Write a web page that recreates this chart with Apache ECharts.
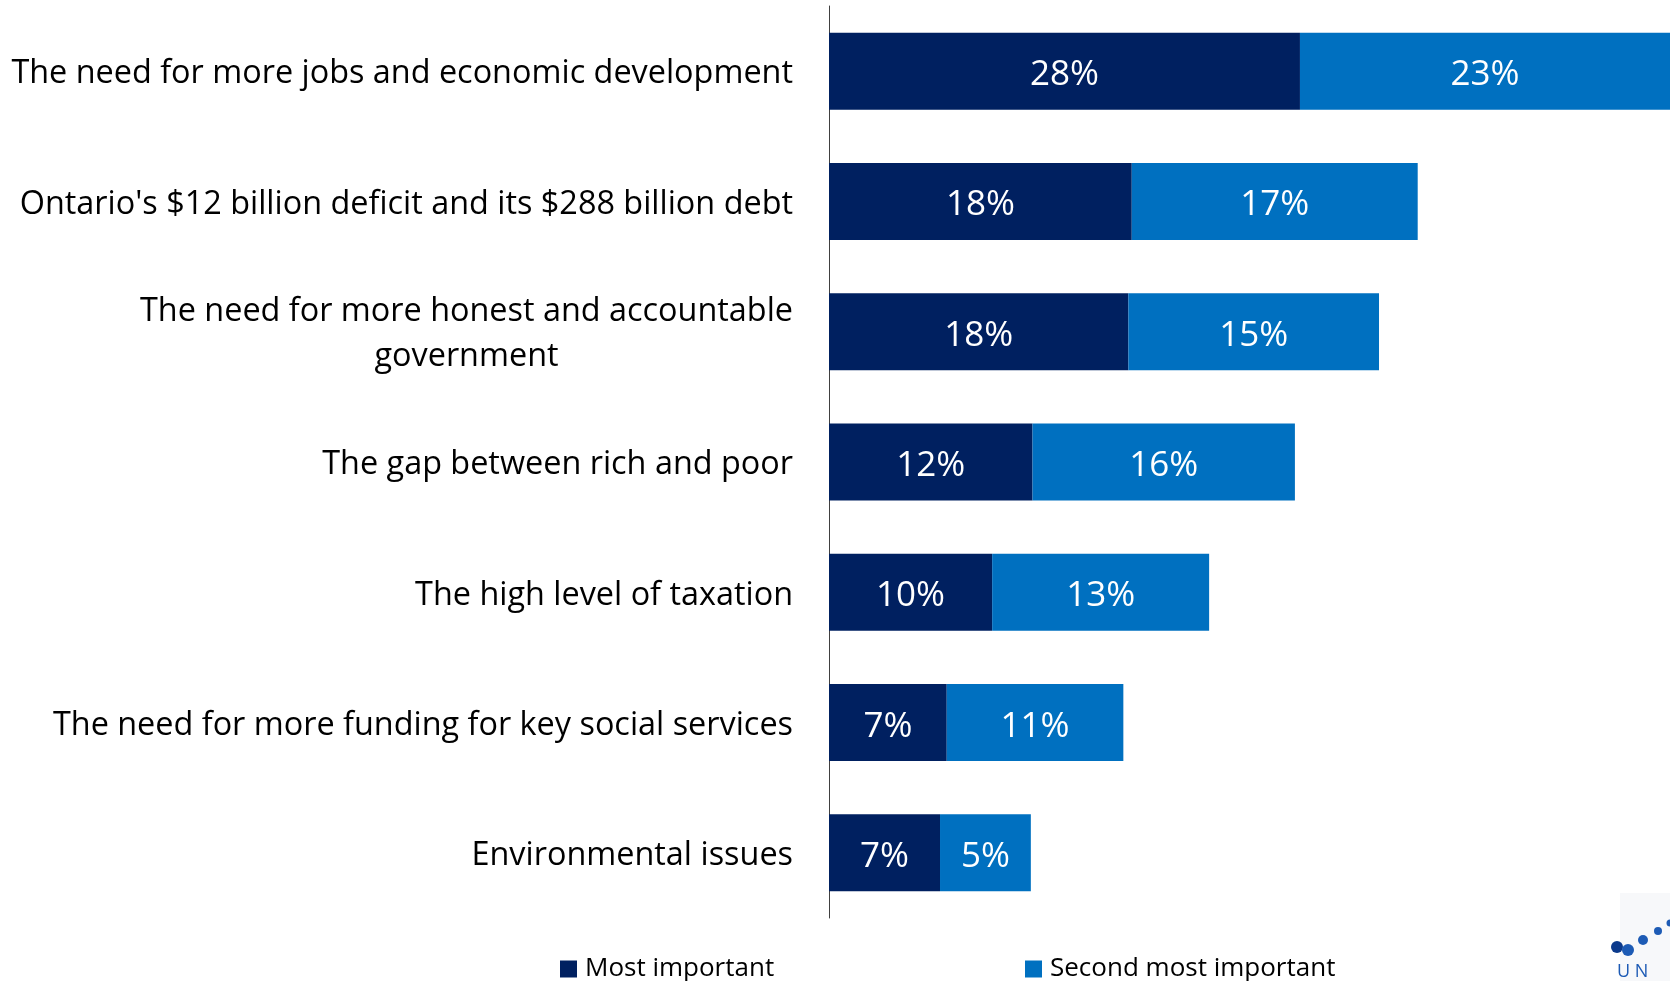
<!DOCTYPE html>
<html>
<head>
<meta charset="utf-8">
<script src="https://cdn.jsdelivr.net/npm/echarts@6/dist/echarts.min.js"></script>
<style>
html,body{margin:0;padding:0;background:#fff;}
#c{width:1670px;height:981px;}
</style>
</head>
<body>
<div id="c"></div>
<script>
const categories = [
  "The need for more jobs and economic development",
  "Ontario's $12 billion deficit and its $288 billion debt",
  "The need for more honest and accountable\ngovernment",
  "The gap between rich and poor",
  "The high level of taxation",
  "The need for more funding for key social services",
  "Environmental issues"
];
const mostImportant = [28, 18, 17.8, 12.1, 9.7, 7.0, 6.6];
const secondMost = [23, 17, 14.9, 15.6, 12.9, 10.5, 5.4];
const seriesNames = ["Most important", "Second most important"];

const chart = echarts.init(document.getElementById('c'));
const labelFont = "'Open Sans', sans-serif";
const barLabel = {show: true, position: 'inside', color: '#fff', fontFamily: labelFont, fontSize: 35,
  offset: [0, 4], formatter: p => Math.round(p.value) + '%'};
chart.setOption({
  animation: false,
  grid: {left: 829, right: 0, top: 6, bottom: 63, containLabel: false},
  xAxis: {type: 'value', min: 0, max: 50, show: false},
  yAxis: {
    type: 'category', inverse: true, data: categories,
    axisLine: {show: true, lineStyle: {color: '#404040', width: 1}},
    axisTick: {show: false},
    axisLabel: {
      margin: 36, fontFamily: labelFont, fontSize: 32.4, color: '#000',
      padding: [6, 0, 0, 0],
      formatter: function (v) {
        return v.split('\n').map(s => '{a|' + s + '}').join('\n');
      },
      rich: {a: {fontFamily: labelFont, fontSize: 32.4, color: '#000', lineHeight: 45, align: 'center'}}
    }
  },
  legend: [
    {data: [seriesNames[0]], left: 555, bottom: -6, itemWidth: 17, itemHeight: 17, icon: 'rect',
     textStyle: {fontFamily: labelFont, fontSize: 26, color: '#000', padding: [0, 0, 0, 3]}},
    {data: [seriesNames[1]], left: 1020, bottom: -6, itemWidth: 17, itemHeight: 17, icon: 'rect',
     textStyle: {fontFamily: labelFont, fontSize: 26, color: '#000', padding: [0, 0, 0, 3]}}
  ],
  graphic: [
    {type: 'rect', shape: {x: 1620, y: 893, width: 50, height: 88}, style: {fill: '#f7f8fa'}, silent: true},
    {type: 'circle', shape: {cx: 1617, cy: 947, r: 6}, style: {fill: '#0b3a8c'}},
    {type: 'circle', shape: {cx: 1628, cy: 950, r: 6}, style: {fill: '#1d5bb5'}},
    {type: 'circle', shape: {cx: 1643, cy: 940, r: 5}, style: {fill: '#1d5bb5'}},
    {type: 'circle', shape: {cx: 1658, cy: 931, r: 4}, style: {fill: '#1d5bb5'}},
    {type: 'circle', shape: {cx: 1670, cy: 923, r: 3.5}, style: {fill: '#1d5bb5'}},
    {type: 'text', left: 1617, top: 963, style: {text: 'U N', fill: '#1d5bb5', font: '18px "Open Sans", sans-serif'}}
  ],
  series: [
    {name: seriesNames[0], type: 'bar', stack: 's', data: mostImportant, barWidth: 77,
     itemStyle: {color: '#002060'}, label: barLabel},
    {name: seriesNames[1], type: 'bar', stack: 's', data: secondMost, barWidth: 77,
     itemStyle: {color: '#0070c0'}, label: barLabel}
  ]
});
</script>
</body>
</html>
